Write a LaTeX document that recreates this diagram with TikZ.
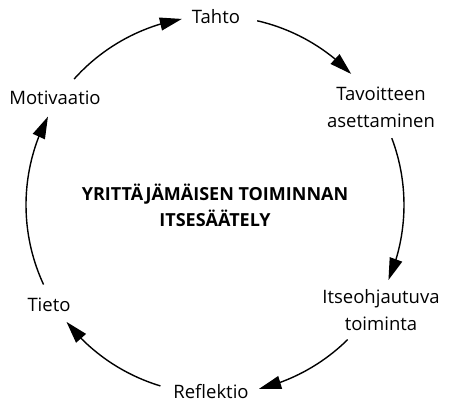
\documentclass[tikz,border=0pt]{standalone}
\usepackage{fontspec}
\setmainfont{Open Sans}
\usetikzlibrary{arrows.meta,calc,bending}
\begin{document}
\begin{tikzpicture}[x=1pt,y=1pt,
  lbl/.style={inner sep=0pt, align=center, font=\fontsize{18.5}{27}\selectfont},
  ttl/.style={inner sep=0pt, align=center, font=\fontsize{18}{26}\selectfont\bfseries},
  arr/.style={line width=1.4pt, -{Triangle[length=22pt,width=13pt,flex]}}]
\useasboundingbox (0,0) rectangle (453,416);
\coordinate (c) at (215,211);
\def\R{189}
\node[lbl] (tahto) at (216,399) {Tahto};
\node[lbl] (tav) at (381,309) {Tavoitteen\\asettaminen};
\node[lbl] (itse) at (381,105.5) {Itseohjautuva\\toiminta};
\node[lbl] (refl) at (211,24) {Reflektio};
\node[lbl] (tieto) at (49,111) {Tieto};
\node[lbl] (moti) at (55,318) {Motivaatio};
\node[ttl] (title) at (215,211) {YRITTÄJÄMÄISEN TOIMINNAN\\ITSESÄÄTELY};
\foreach \n/\a in {s1/138.2, s2/77.1, s3/20.7, s4/-45.4, s5/253.2, s6/204.9}
  \coordinate (\n) at ($(c)+(\a:\R)$);
\draw[arr] (s1) arc[start angle=138.2, end angle=100.1, radius=\R];
\draw[arr] (s2) arc[start angle=77.1, end angle=43.9, radius=\R];
\draw[arr] (s3) arc[start angle=20.7, end angle=-23.4, radius=\R];
\draw[arr] (s4) arc[start angle=-45.4, end angle=-76.5, radius=\R];
\draw[arr] (s5) arc[start angle=253.2, end angle=218.2, radius=\R];
\draw[arr] (s6) arc[start angle=204.9, end angle=152.1, radius=\R];
\end{tikzpicture}
\end{document}
